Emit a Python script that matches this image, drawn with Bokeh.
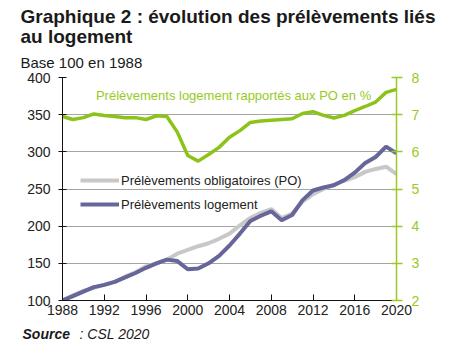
from bokeh.plotting import figure
from bokeh.models import (Range1d, LinearAxis, Label, Legend, LegendItem, FixedTicker,
                          ColumnDataSource, Title)
from bokeh.embed import file_html
from bokeh.resources import INLINE

years = list(range(1988, 2021))
po = [100, 107, 113, 117, 121, 125, 132, 138, 146, 150, 155, 163, 168, 173, 177, 183,
      190, 201, 211, 218, 223, 211, 217, 233, 243, 250, 256, 261, 266, 273, 277, 280, 270]
logement = [100, 106, 112, 118, 121, 125, 131, 137, 144, 150, 155, 153, 142, 143, 150, 160,
            174, 190, 207, 214, 220, 208, 215, 235, 248, 252, 255, 262, 272, 285, 293, 307, 298]
ratio = [6.95, 6.87, 6.92, 7.02, 6.98, 6.95, 6.92, 6.92, 6.87, 6.97, 6.95, 6.53, 5.90, 5.75,
         5.93, 6.12, 6.39, 6.57, 6.79, 6.83, 6.85, 6.87, 6.89, 7.03, 7.08, 6.98, 6.91, 6.98,
         7.11, 7.22, 7.34, 7.60, 7.68]
x_ticks = [1988, 1992, 1996, 2000, 2004, 2008, 2012, 2016, 2020]
left_ticks = [100, 150, 200, 250, 300, 350, 400]
right_ticks = [2, 3, 4, 5, 6, 7, 8]

title1 = "Graphique 2 : évolution des prélèvements liés"
title2 = "au logement"
subtitle = "Base 100 en 1988"
label_po = "Prélèvements obligatoires (PO)"
label_log = "Prélèvements logement"
label_ratio = "Prélèvements logement rapportés aux PO en %"
source_a = "Source"
source_b = ": CSL 2020"

GREEN = "#8CC31A"
GREEN_T = "#98CA25"
PURPLE = "#66669A"
GRAY = "#C8C8C8"
DARK = "#222222"
FONT = "Liberation Sans"

src = ColumnDataSource(dict(year=years, po=po, logement=logement, ratio=ratio))

p = figure(width=457, height=359, output_backend="svg", toolbar_location=None,
           x_range=Range1d(1988, 2020), y_range=Range1d(100, 400),
           min_border_left=62, min_border_right=61, min_border_top=77, min_border_bottom=59)
p.extra_y_ranges = {"pct": Range1d(2, 8)}
p.outline_line_color = None
p.background_fill_color = "white"

p.xgrid.grid_line_color = None
p.ygrid.grid_line_color = "#A6A6A6"
p.ygrid.grid_line_width = 1
p.ygrid.ticker = FixedTicker(ticks=left_ticks)

xa = p.xaxis[0]
xa.ticker = FixedTicker(ticks=x_ticks)
xa.major_tick_in = 6
xa.major_tick_out = 0
xa.minor_tick_line_color = None
xa.axis_line_color = "#111111"
xa.major_tick_line_color = "#111111"
xa.major_label_text_font = FONT
xa.major_label_text_font_size = "14px"
xa.major_label_text_color = DARK
xa.major_label_standoff = 4

ya = p.yaxis[0]
ya.ticker = FixedTicker(ticks=left_ticks)
ya.major_tick_in = 4
ya.major_tick_out = 4
ya.minor_tick_line_color = None
ya.axis_line_color = "#111111"
ya.major_tick_line_color = "#111111"
ya.major_label_text_font = FONT
ya.major_label_text_font_size = "14px"
ya.major_label_text_color = DARK
ya.major_label_standoff = 8

ra = LinearAxis(y_range_name="pct", ticker=FixedTicker(ticks=right_ticks))
ra.major_tick_in = 5
ra.major_tick_out = 6
ra.minor_tick_line_color = None
ra.axis_line_color = GREEN_T
ra.axis_line_width = 1.5
ra.major_tick_line_color = GREEN_T
ra.major_tick_line_width = 1.5
ra.major_label_text_font = FONT
ra.major_label_text_font_size = "14px"
ra.major_label_text_color = GREEN_T
ra.major_label_standoff = 9
p.add_layout(ra, "right")

r_po = p.line("year", "po", source=src, line_color=GRAY, line_width=4)
r_log = p.line("year", "logement", source=src, line_color=PURPLE, line_width=4)
p.line("year", "ratio", source=src, y_range_name="pct", line_color=GREEN, line_width=3.5)

leg_style = dict(orientation="vertical", glyph_width=39, glyph_height=20, label_height=20,
                 spacing=0, label_standoff=2, padding=0, margin=0,
                 border_line_alpha=0, background_fill_alpha=0,
                 label_text_font=FONT, label_text_font_size="13px", label_text_color=DARK)
p.add_layout(Legend(items=[LegendItem(label=label_po, renderers=[r_po])],
                    location=(18, 110), **leg_style), "center")
p.add_layout(Legend(items=[LegendItem(label=label_log, renderers=[r_log])],
                    location=(18, 86), **leg_style), "center")

p.add_layout(Label(x=1991.2, y=376, text=label_ratio, text_baseline="middle",
                   text_font=FONT, text_font_size="13px", text_color=GREEN_T))

p.add_layout(Title(text=subtitle, align="left", offset=-42, standoff=14,
                   text_font=FONT, text_font_size="15px", text_font_style="normal",
                   text_color="#1a1a1a"), "above")
p.add_layout(Title(text=title2, align="left", offset=-42, standoff=-4,
                   text_font=FONT, text_font_size="19px", text_font_style="bold",
                   text_color="#1a1a1a"), "above")
p.add_layout(Title(text=title1, align="left", offset=-42, standoff=-2,
                   text_font=FONT, text_font_size="19px", text_font_style="bold",
                   text_color="#1a1a1a"), "above")

p.add_layout(Label(x=-40, y=0, x_units="screen", y_units="screen", text=source_a,
                   text_font=FONT, text_font_size="14px", text_font_style="bold italic",
                   text_color="#1a1a1a", text_baseline="alphabetic"), "below")
p.add_layout(Label(x=17, y=16, x_units="screen", y_units="screen", text=source_b,
                   text_font=FONT, text_font_size="14px", text_font_style="italic",
                   text_color="#1a1a1a", text_baseline="alphabetic"), "below")

open("out.html", "w").write(file_html(p, INLINE))
